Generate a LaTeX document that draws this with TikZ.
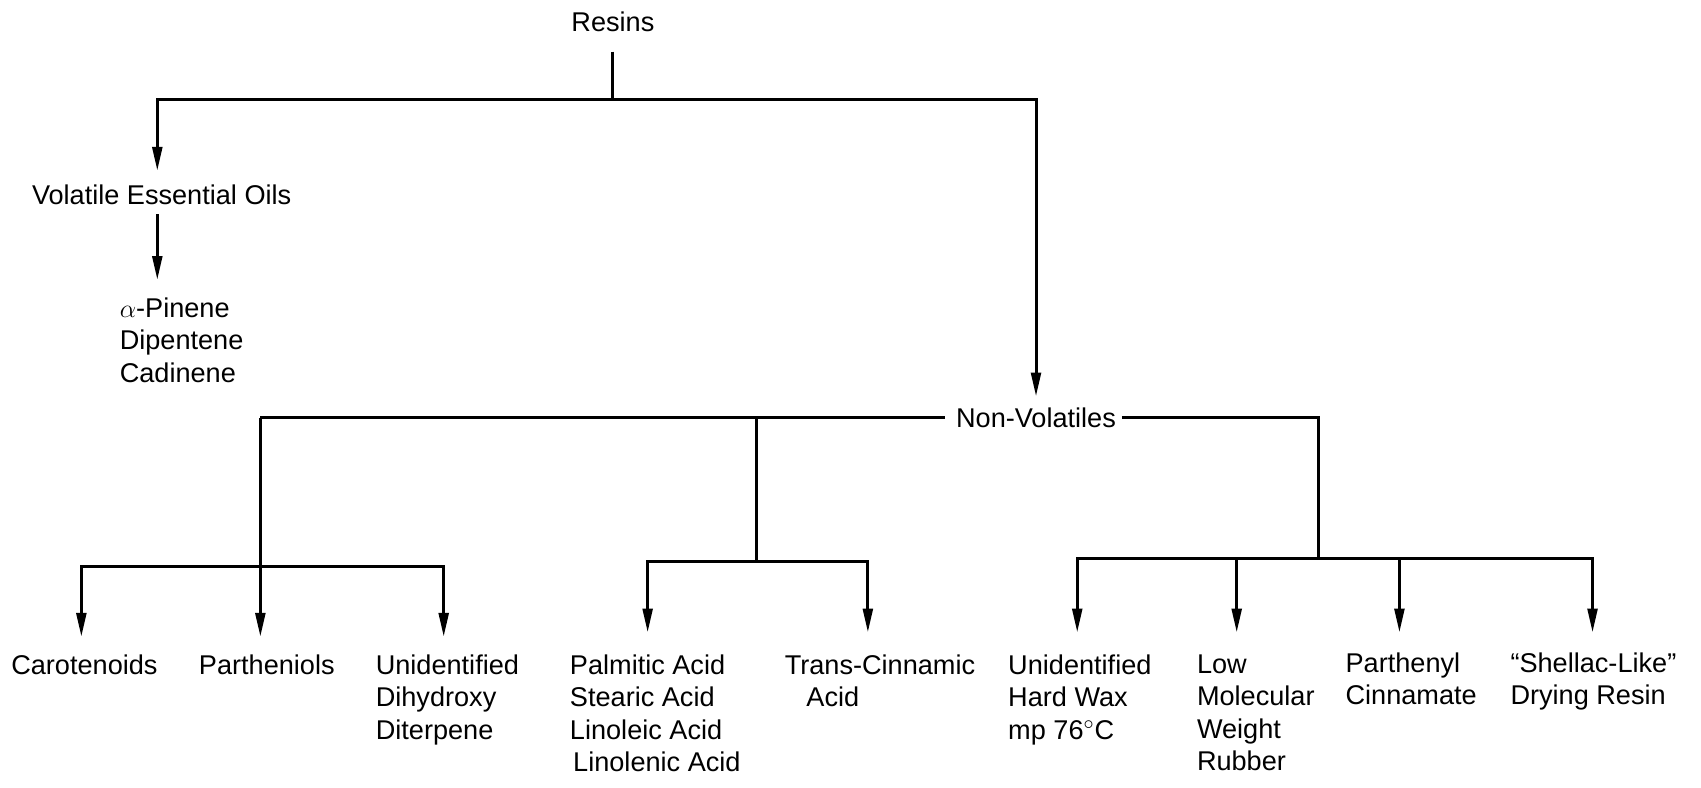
\documentclass[tikz,border=0pt]{standalone}
\usepackage{fontspec}
\setmainfont{Liberation Sans}
\usetikzlibrary{arrows.meta}
\begin{document}
\begin{tikzpicture}[x=0.5pt,y=-0.5pt,
  lbl/.style={font=\fontsize{12.5}{15}\selectfont, inner sep=0pt, align=left},
  conn/.style={line width=1.4pt},
  arr/.style={conn,-{Triangle[length=11pt,width=4.5pt]}}]
\useasboundingbox (0,0) rectangle (1568,726);
% nodes
\node[lbl] (resins) at (565,20) {Resins};
\node[lbl] (veo) at (149,180) {Volatile Essential Oils};
\node[lbl,anchor=north west] (pinene) at (110,274) {$\alpha$-Pinene\\Dipentene\\Cadinene};
\node[lbl] (nonvol) at (955,385) {Non-Volatiles};
\node[lbl,anchor=north west] (carot) at (10,603) {Carotenoids};
\node[lbl,anchor=north west] (parth) at (183,603) {Partheniols};
\node[lbl,anchor=north west] (unid) at (346,603) {Unidentified\\Dihydroxy\\Diterpene};
\node[lbl,anchor=north west] (palm) at (525,603) {Palmitic Acid\\Stearic Acid\\Linoleic Acid\\\hspace*{1.5pt}Linolenic Acid};
\node[lbl,anchor=north west] (trans) at (723,603) {Trans-Cinnamic\\\hspace*{10pt}Acid};
\node[lbl,anchor=north west] (wax) at (929,603) {Unidentified\\Hard Wax\\mp 76$^{\circ}$C};
\node[lbl,anchor=north west] (rubber) at (1103,603) {Low\\Molecular\\Weight\\Rubber};
\node[lbl,anchor=north west] (parthenyl) at (1240,601) {Parthenyl\\Cinnamate};
\node[lbl,anchor=north west] (shellac) at (1392,601) {``Shellac-Like''\\Drying Resin};
% junctions
\coordinate (top) at (565,92);
\coordinate (tl) at (145,92);
\coordinate (tr) at (955,92);
\coordinate (j1) at (240,385);
\coordinate (j2) at (240,522);
\coordinate (j3) at (697,385);
\coordinate (j4) at (697,518);
\coordinate (j5) at (1215,385);
\coordinate (j6) at (1215,515);
% connectors
\draw[conn] ([yshift=-9pt]resins.south) -- (top);
\draw[arr] (top) -- (tl) -- ([yshift=6.5pt]tl |- veo.north);
\draw[arr] (top) -- (tr) -- ([yshift=5pt]tr |- nonvol.north);
\draw[arr] ([yshift=-4pt]tl |- veo.south) -- ([yshift=8pt]tl |- pinene.north);
\draw[conn] ([xshift=-5pt]nonvol.west) -- (j3) -- (j1);
\draw[arr] (j1) -- ([xshift=28.5pt,yshift=8pt]parth.north west);
\draw[arr] (j2) -| ([xshift=32.5pt,yshift=8pt]carot.north west);
\draw[arr] (j2) -| ([xshift=31.5pt,yshift=8pt]unid.north west);
\draw[conn] (j3) -- (j4);
\draw[arr] (j4) -| ([xshift=36pt,yshift=10pt]palm.north west);
\draw[arr] (j4) -| ([xshift=38.5pt,yshift=10pt]trans.north west);
\draw[conn] ([xshift=2.5pt]nonvol.east) -- (j5) -- (j6);
\draw[arr] (j6) -| ([xshift=32pt,yshift=10pt]wax.north west);
\draw[arr] (j6) -| ([xshift=18.5pt,yshift=10pt]rubber.north west);
\draw[arr] (j6) -| ([xshift=25pt,yshift=9pt]parthenyl.north west);
\draw[arr] (j6) -| ([xshift=38pt,yshift=9pt]shellac.north west);
\end{tikzpicture}
\end{document}
